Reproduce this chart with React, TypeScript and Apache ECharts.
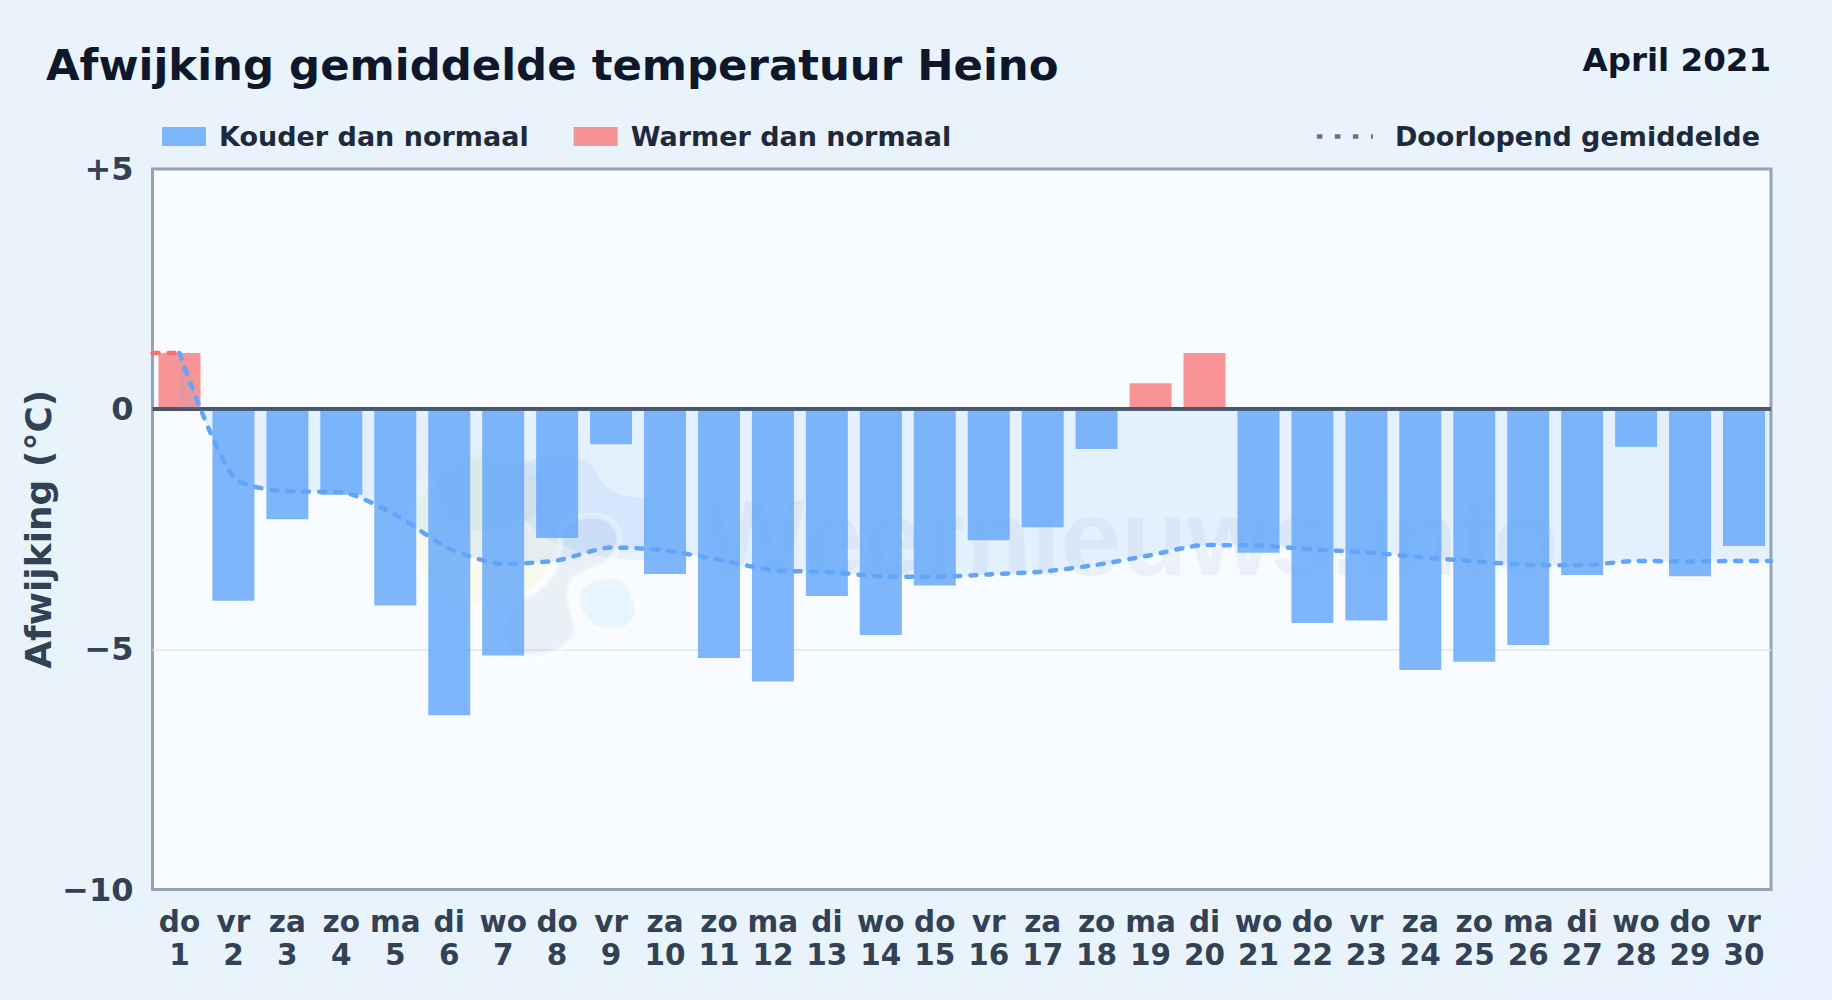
import React, { useEffect, useRef } from "react";
import * as echarts from "echarts";

const weekdays = ["do","vr","za","zo","ma","di","wo","do","vr","za","zo","ma","di","wo","do","vr","za","zo","ma","di","wo","do","vr","za","zo","ma","di","wo","do","vr"];
const days = [1,2,3,4,5,6,7,8,9,10,11,12,13,14,15,16,17,18,19,20,21,22,23,24,25,26,27,28,29,30];
const colder = [null,-3.99,-2.29,-1.78,-4.09,-6.37,-5.13,-2.68,-0.73,-3.43,-5.18,-5.67,-3.89,-4.7,-3.67,-2.73,-2.46,-0.83,null,null,-2.99,-4.45,-4.4,-5.43,-5.26,-4.91,-3.45,-0.78,-3.48,-2.85];
const warmer = [1.17,null,null,null,null,null,null,null,null,null,null,null,null,null,null,null,null,null,0.54,1.17,null,null,null,null,null,null,null,null,null,null];
const runningMean = [1.17,-1.41,-1.71,-1.73,-2.2,-2.9,-3.22,-3.15,-2.88,-2.94,-3.14,-3.35,-3.39,-3.48,-3.49,-3.44,-3.38,-3.24,-3.04,-2.83,-2.84,-2.92,-2.98,-3.08,-3.17,-3.24,-3.25,-3.16,-3.17,-3.16];
const yTicks: Record<string, string> = { "5": "+5", "0": "0", "-5": "−5", "-10": "−10" };

const FONT = "DejaVu Sans";
const COLD_NAME = "Kouder dan normaal";
const WARM_NAME = "Warmer dan normaal";
const MEAN_NAME = "Doorlopend gemiddelde";

echarts.graphic.registerShape("wmBlue", echarts.graphic.extendPath("M527 462 C560 450 585 455 595 470 C605 495 625 498 650 498 L650 560 C610 560 575 555 540 535 C510 510 505 475 527 462Z", {}));
echarts.graphic.registerShape("wmGray", echarts.graphic.extendPath("M585 516 C610 512 625 530 617 550 C610 568 585 570 575 578 C562 590 572 610 577 630 C570 655 530 662 510 652 C495 640 505 610 520 600 C545 590 565 565 560 540 C560 525 570 518 585 516Z", {}));
echarts.graphic.registerShape("wmDrop", echarts.graphic.extendPath("M600 578 C615 572 630 580 635 600 C642 620 625 632 610 630 C590 630 578 612 578 598 C578 586 590 580 600 578Z", {}));

export default function App() {
  const ref = useRef<HTMLDivElement>(null);
  useEffect(() => {
    document.body.style.margin = "0";
    const chart = echarts.init(ref.current!, undefined, { renderer: "svg" });
    chart.setOption({
      animation: false,
      backgroundColor: "transparent",
      textStyle: { fontFamily: FONT },
      title: [
        { text: "Afwijking gemiddelde temperatuur Heino", left: 46, top: 43, padding: 0, textStyle: { fontFamily: FONT, fontSize: 43.4, fontWeight: "bold", color: "#0f172a" } },
        { text: "April 2021", right: 61, top: 43, padding: 0, textStyle: { fontFamily: FONT, fontSize: 32.5, fontWeight: "bold", color: "#0f172a" } },
      ],
      legend: [
        {
          data: [COLD_NAME, WARM_NAME], left: 162, top: 123, padding: 0, itemWidth: 44, itemHeight: 19, itemGap: 45,
          icon: "rect", textStyle: { fontFamily: FONT, fontSize: 27, fontWeight: "bold", color: "#1e293b", padding: [0, 0, 0, 8] },
        },
        {
          data: [MEAN_NAME], right: 72, top: 123, padding: 0, itemWidth: 56, itemHeight: 19,
          lineStyle: { color: "#64748b", width: 4.5, type: [5.5, 12.5], cap: "butt" },
          itemStyle: { color: "transparent", opacity: 0, borderWidth: 0 },
          textStyle: { fontFamily: FONT, fontSize: 27, fontWeight: "bold", color: "#1e293b", padding: [0, 0, 0, 17] },
        },
      ],
      grid: { left: 152.5, right: 61, top: 169, bottom: 110.5, show: true, backgroundColor: "#f8fbff", borderColor: "#94a3b8", borderWidth: 3 },
      xAxis: [
        {
          type: "category", data: days.map((d, i) => weekdays[i] + "\n" + d), position: "bottom",
          axisLine: { show: false, onZero: false }, axisTick: { show: false },
          axisLabel: { interval: 0, margin: 16, fontFamily: FONT, fontSize: 29.5, lineHeight: 33, fontWeight: "bold", color: "#334155" },
        },
        { type: "value", min: 0.5, max: 30.5, show: false },
      ],
      yAxis: {
        type: "value", min: -10, max: 5, interval: 5,
        name: "Afwijking (°C)", nameLocation: "middle", nameGap: 96, nameRotate: 90, nameMoveOverlap: false,
        nameTextStyle: { fontFamily: FONT, fontSize: 36, fontWeight: "bold", color: "#334155" },
        axisLine: { show: false }, axisTick: { show: false },
        axisLabel: { margin: 19, padding: [2, 0, 0, 0], fontFamily: FONT, fontSize: 32, fontWeight: "bold", color: "#334155", formatter: (v: number) => yTicks[String(v)] ?? String(v) },
        splitLine: { show: true, showMinLine: false, showMaxLine: false, lineStyle: { color: "#dfe6ee", width: 1.5 } },
      },
      graphic: {
        elements: [
          { type: "circle", z: 1, shape: { cx: 485, cy: 530, r: 76 }, style: { fill: "rgba(254,240,138,0.14)", stroke: "rgba(255,255,255,0.5)", lineWidth: 8 } },
          { type: "wmBlue", z: 1, style: { fill: "rgba(147,197,253,0.18)" } },
          { type: "ellipse", z: 1, shape: { cx: 490, cy: 490, rx: 55, ry: 42 }, style: { fill: "rgba(100,130,170,0.06)" } },
          { type: "wmGray", z: 1, style: { fill: "rgba(100,130,170,0.09)", stroke: "rgba(255,255,255,0.5)", lineWidth: 6 } },
          { type: "wmDrop", z: 1, style: { fill: "rgba(125,195,250,0.12)", stroke: "rgba(255,255,255,0.5)", lineWidth: 5 } },
          { type: "text", z: 1, x: 703, y: 483, style: { text: "Weernieuws.info", fontFamily: "Liberation Sans", fontSize: 108, fontWeight: "bold", fill: "rgba(59,100,170,0.065)" } },
        ],
      },
      series: [
        {
          name: COLD_NAME, type: "bar", data: colder, barWidth: 42, barGap: "-100%", z: 3,
          itemStyle: { color: "rgba(96,165,250,0.8)" },
          markLine: {
            silent: true, symbol: "none", z: 6, label: { show: false },
            lineStyle: { color: "#475569", width: 4, type: "solid" }, data: [{ yAxis: 0 }],
          },
        },
        { name: WARM_NAME, type: "bar", data: warmer, barWidth: 42, barGap: "-100%", z: 3, itemStyle: { color: "rgba(248,113,113,0.75)" } },
        {
          name: MEAN_NAME, type: "line", xAxisIndex: 1, symbol: "none", smooth: 0.25, z: 7,
          data: [...days.map((d, i) => [d, runningMean[i]]), [30.5, runningMean[29]]],
          lineStyle: { color: "#60a5fa", width: 4.5, type: [6, 10], cap: "round" },
          areaStyle: { color: "rgba(96,165,250,0.18)", origin: 0 },
        },
        {
          name: "Doorlopend gemiddelde (boven normaal)", type: "line", xAxisIndex: 1, symbol: "none", z: 7,
          data: [[0.5, runningMean[0]], [days[0], runningMean[0]]],
          lineStyle: { color: "#f87171", width: 4.5, type: [6, 10], cap: "round" },
        },
      ],
    });
    return () => chart.dispose();
  }, []);
  return <div ref={ref} style={{ width: 1832, height: 1000, background: "linear-gradient(135deg,#e8f3fc,#e8f3fc 50%,#e9f3fd)" }} />;
}
